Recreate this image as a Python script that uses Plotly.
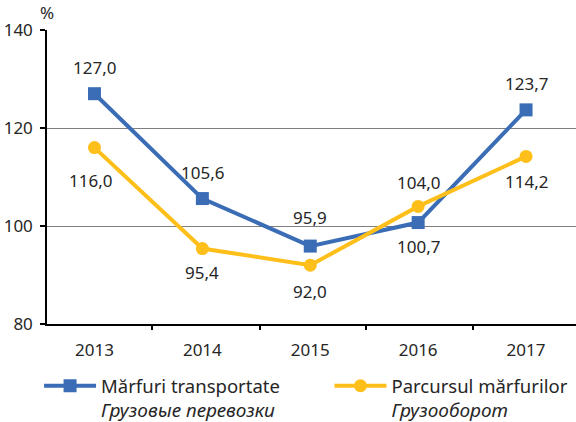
import plotly.graph_objects as go

years = ["2013", "2014", "2015", "2016", "2017"]
marfuri = [127.0, 105.6, 95.9, 100.7, 123.7]
parcurs = [116.0, 95.4, 92.0, 104.0, 114.2]
# label vertical offsets in pixels (negative = above the point)
marfuri_shift = [26, 26, 29, -24, 26]
parcurs_shift = [-33, -24, -26, 24, -25]
parcurs_xshift = [-4, 0, 0, 0, 0]
y_ticks = [80, 100, 120, 140]
grid_vals = [100, 120]

def fmt(v):
    return f"{v:.1f}".replace(".", ",")

xs = list(range(len(years)))
FONT = "Noto Sans"
TXT = "#262626"
BLUE = "#3A6DB5"
YEL = "#FEBF1A"

fig = go.Figure()
fig.add_trace(go.Scatter(
    x=xs, y=marfuri, mode="lines+markers",
    name="Mărfuri transportate<br><i><span style=\"font-size:19px\">Грузовые перевозки</span></i>",
    line=dict(color=BLUE, width=4),
    marker=dict(symbol="square", size=13, color=BLUE),
    legend="legend", cliponaxis=False,
))
fig.add_trace(go.Scatter(
    x=xs, y=parcurs, mode="lines+markers",
    name="Parcursul mărfurilor<br><i><span style=\"font-size:19px\">Грузооборот</span></i>",
    line=dict(color=YEL, width=4),
    marker=dict(symbol="circle", size=13, color=YEL),
    legend="legend2", cliponaxis=False,
))

annotations = []
for x, v, s in zip(xs, marfuri, marfuri_shift):
    annotations.append(dict(x=x, y=v, xref="x", yref="y", text=fmt(v), showarrow=False,
                            xanchor="center", yanchor="middle", yshift=s,
                            font=dict(family=FONT, size=17, color=TXT)))
for x, v, s, xsft in zip(xs, parcurs, parcurs_shift, parcurs_xshift):
    annotations.append(dict(x=x, y=v, xref="x", yref="y", text=fmt(v), showarrow=False,
                            xanchor="center", yanchor="middle", yshift=s, xshift=xsft,
                            font=dict(family=FONT, size=17, color=TXT)))
annotations.append(dict(text="%", xref="paper", yref="paper", x=0.0, y=1.0,
                        xanchor="center", yanchor="middle", yshift=18, showarrow=False,
                        font=dict(family=FONT, size=17, color=TXT)))

xr = [-0.44, 4.463]
fig.update_layout(
    width=576, height=422,
    margin=dict(l=47, r=0, t=30, b=98, autoexpand=False),
    paper_bgcolor="white", plot_bgcolor="white",
    font=dict(family=FONT, size=17, color=TXT),
    xaxis=dict(range=xr, tickvals=xs, ticktext=years, ticks="", showgrid=False,
               showline=True, linecolor="#000", linewidth=1.5, zeroline=False,
               tickfont=dict(size=17, color=TXT), ticklabelstandoff=10),
    xaxis2=dict(range=xr, overlaying="x", anchor="y", side="bottom",
                tickvals=[0.53, 1.53, 2.52, 3.51], ticktext=["", "", "", ""],
                ticks="outside", ticklen=5, tickcolor="#000", tickwidth=1.5,
                showgrid=False, showline=False, zeroline=False),
    yaxis=dict(range=[80, 140], tickvals=y_ticks, showgrid=False, zeroline=False,
               showline=True, linecolor="#000", linewidth=1.5,
               ticks="outside", ticklen=5, tickcolor="#000", tickwidth=1.5,
               tickfont=dict(size=17, color=TXT), ticklabelstandoff=4),
    yaxis2=dict(range=[80, 140], overlaying="y", anchor="x", tickvals=grid_vals,
                showticklabels=False, showgrid=True, gridcolor="#7F7F7F",
                gridwidth=1.2, zeroline=False, showline=False),
    legend=dict(x=-0.015, y=-0.147, xanchor="left", yanchor="top", valign="top",
                itemwidth=52, font=dict(size=18.5, color=TXT), bgcolor="rgba(0,0,0,0)"),
    legend2=dict(x=0.534, y=-0.147, xanchor="left", yanchor="top", valign="top",
                 itemwidth=52, font=dict(size=18.5, color=TXT), bgcolor="rgba(0,0,0,0)"),
    annotations=annotations,
)
fig.add_trace(go.Scatter(x=[None], y=[None], yaxis="y2", xaxis="x2", showlegend=False, hoverinfo="skip"))

fig.write_html("out.html", config={"displayModeBar": False},
               post_script="document.body.style.margin='0';")
